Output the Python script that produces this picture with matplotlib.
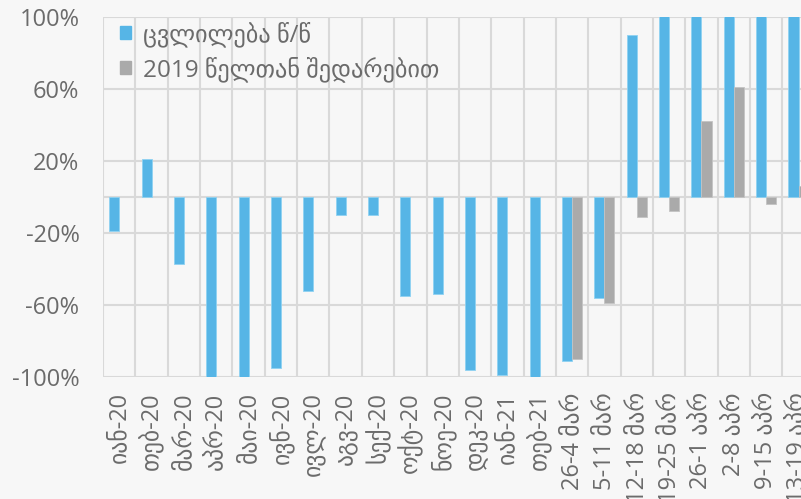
import numpy as np
import matplotlib

matplotlib.use("Agg")
import matplotlib.pyplot as plt
from matplotlib.patches import Patch

categories = [
    "იან-20", "თებ-20", "მარ-20", "აპრ-20", "მაი-20", "ივნ-20", "ივლ-20",
    "აგვ-20", "სექ-20", "ოქტ-20", "ნოე-20", "დეკ-20", "იან-21", "თებ-21",
    "26-4 მარ", "5-11 მარ", "12-18 მარ", "19-25 მარ", "26-1 აპრ",
    "2-8 აპრ", "9-15 აპრ", "13-19 აპრ",
]
# year-on-year change, % (bars above 100 run off the top of the chart)
change_yoy = [
    -19, 21, -37, -100, -100, -95, -52, -10, -10, -55, -54, -96, -99, -100,
    -91, -56, 90, 150, 150, 150, 150, 150,
]
# change vs. 2019, % (weekly figures only)
change_vs_2019 = [
    np.nan, np.nan, np.nan, np.nan, np.nan, np.nan, np.nan, np.nan, np.nan,
    np.nan, np.nan, np.nan, np.nan, np.nan,
    -90, -59, -11, -8, 42, 61, -4, 6,
]
series_names = ["ცვლილება წ/წ", "2019 წელთან შედარებით"]
y_ticks = [-100, -60, -20, 20, 60, 100]

BLUE = "#56b5e6"
GRAY = "#aaaaaa"
GRID = "#d9d9d9"
TEXT = "#6b6b6b"
BG = "#f7f7f7"

plt.rcParams["font.family"] = ["Open Sans", "DejaVu Sans"]

fig = plt.figure(figsize=(8.01, 4.99), dpi=100, facecolor=BG)
ax = fig.add_axes([0.1286, 0.2445, 0.8885, 0.7214], facecolor=BG)

x = np.arange(len(categories))
width = 0.31
ax.bar(x - width / 2, change_yoy, width, color=BLUE, edgecolor="#8fd2f2",
       linewidth=0.6, zorder=3)
ax.bar(x + width / 2, change_vs_2019, width, color=GRAY, edgecolor="#c4c4c4",
       linewidth=0.6, zorder=3)

ax.set_xlim(-0.5, len(categories) - 0.5)
ax.set_ylim(-100, 100)
ax.set_yticks(y_ticks)
ax.set_yticklabels([f"{v}%" for v in y_ticks])
ax.set_xticks(x)
ax.set_xticklabels(categories, rotation=90)
ax.set_xticks(np.arange(len(categories) + 1) - 0.5, minor=True)

ax.grid(axis="y", which="major", color=GRID, linewidth=1.5, zorder=0)
ax.grid(axis="x", which="minor", color=GRID, linewidth=1.5, zorder=0)
ax.axhline(0, color=GRID, linewidth=1.5, zorder=1)

ax.tick_params(axis="both", which="both", length=0, colors=TEXT)
ax.tick_params(axis="y", labelsize=17, pad=17)
ax.tick_params(axis="x", labelsize=17, pad=11)
for label in ax.get_xticklabels():
    label.set_verticalalignment("top")
for spine in ax.spines.values():
    spine.set_visible(False)

handles = [Patch(color=BLUE), Patch(color=GRAY)]
ax.legend(
    handles,
    series_names,
    loc="upper left",
    bbox_to_anchor=(0.017, 1.0),
    frameon=False,
    fontsize=17.5,
    labelcolor=TEXT,
    handlelength=0.45,
    handleheight=0.45,
    handletextpad=0.5,
    labelspacing=0.35,
    borderpad=0.2,
    borderaxespad=0,
)

fig.savefig("out.png", dpi=100, facecolor=BG)
